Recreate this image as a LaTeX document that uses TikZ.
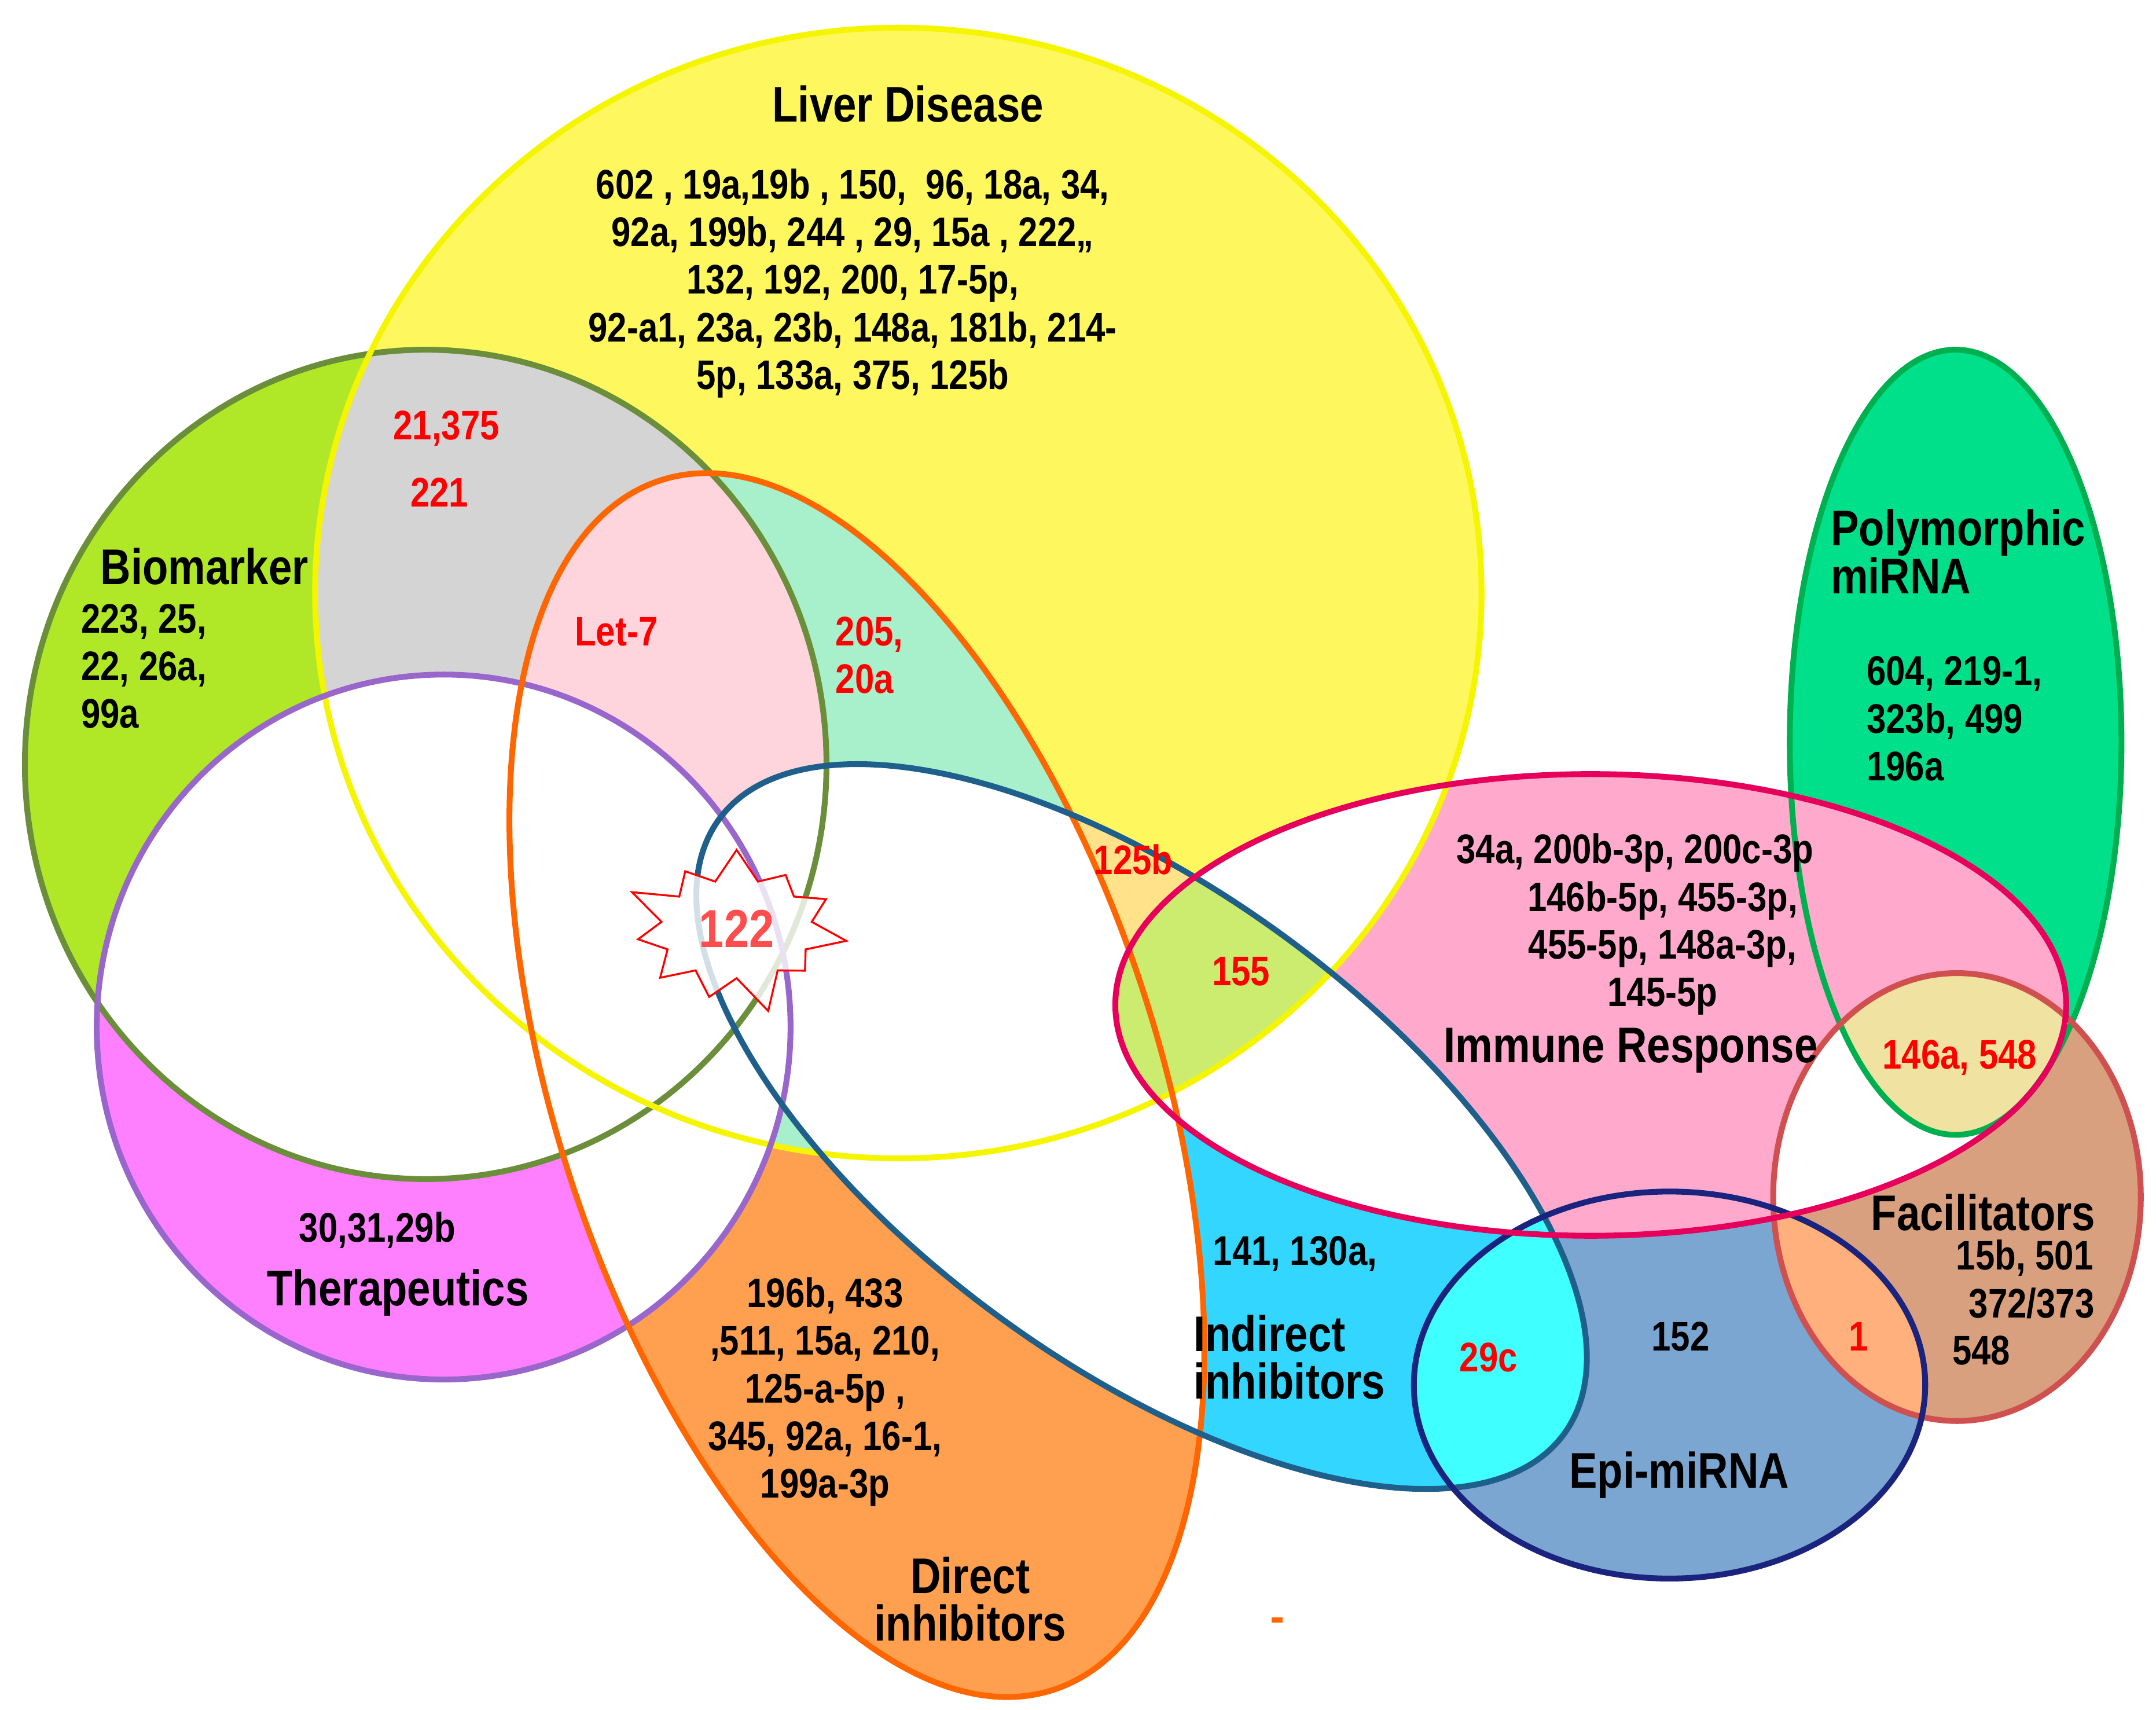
\documentclass[tikz,border=0pt]{standalone}
\usepackage{fontspec}
\setmainfont[FakeStretch=0.84]{Liberation Sans}
\usetikzlibrary{shapes.symbols}
\definecolor{bioF}{HTML}{B0E828}\definecolor{bioD}{HTML}{6B8E3A}
\definecolor{livF}{HTML}{FFF75E}\definecolor{livD}{HTML}{F5F500}
\definecolor{thrF}{HTML}{FF80FF}\definecolor{thrD}{HTML}{9966CC}
\definecolor{dirF}{HTML}{FFA050}\definecolor{dirD}{HTML}{FF6600}
\definecolor{indF}{HTML}{33D6FF}\definecolor{indD}{HTML}{1F5F8B}
\definecolor{immF}{HTML}{FFAACC}\definecolor{immD}{HTML}{E6005C}
\definecolor{polF}{HTML}{00E08A}\definecolor{polD}{HTML}{00B050}
\definecolor{facF}{HTML}{D9A080}\definecolor{facD}{HTML}{D05050}
\definecolor{epiF}{HTML}{7BA6D1}\definecolor{epiD}{HTML}{1A237E}
\definecolor{grayc}{HTML}{D4D4D4}\definecolor{pinkc}{HTML}{FFD5DD}
\definecolor{mintc}{HTML}{A8F0CC}\definecolor{lorc}{HTML}{FFE28A}
\definecolor{ygc}{HTML}{CCEC70}\definecolor{cyanc}{HTML}{40FFFF}
\definecolor{beigec}{HTML}{F0E2A0}\definecolor{peachc}{HTML}{FFB07C}
\newcommand{\pathB}{(308,553) ellipse [x radius=290,y radius=300]}
\newcommand{\pathL}{(650,429) ellipse [x radius=422,y radius=409]}
\newcommand{\pathT}{(321,743) ellipse [x radius=251,y radius=255]}
\newcommand{\pathD}{(620,785) ellipse [x radius=460,y radius=218,rotate=-72]}
\newcommand{\pathI}{(826,815) ellipse [x radius=378,y radius=172,rotate=-36]}
\newcommand{\pathIm}{(1151,727) ellipse [x radius=344,y radius=167]}
\newcommand{\pathP}{(1415,537) ellipse [x radius=120,y radius=284]}
\newcommand{\pathF}{(1416,866) ellipse [x radius=133,y radius=162]}
\newcommand{\pathE}{(1208,1002) ellipse [x radius=185,y radius=140]}
\tikzset{
  num/.style={font={\fontsize{8.5}{9.8}\selectfont\bfseries},align=center,inner sep=0pt},
  rednum/.style={num,text=red},
  ttl/.style={font={\fontsize{10.3}{9.8}\selectfont\bfseries},align=left,inner sep=0pt},
  rim/.style={line width=1.2pt}
}
\begin{document}
\begin{tikzpicture}[x=0.01cm,y=-0.01cm]
\useasboundingbox (0,0) rectangle (1560,1236.7);
%base fills
\fill[bioF] \pathB; \fill[livF] \pathL; \fill[thrF] \pathT;
\fill[dirF] \pathD; \fill[indF] \pathI; \fill[polF] \pathP;
\fill[facF] \pathF; \fill[epiF] \pathE; \fill[immF] \pathIm;
%overlaps
\begin{scope}\clip \pathB; \fill[grayc] \pathL; \fill[white] \pathD; \end{scope}
\begin{scope}\clip \pathL; \fill[mintc] \pathD; \clip \pathB; \fill[pinkc] \pathD; \end{scope}
\begin{scope}\clip \pathL; \fill[lorc] \pathI; \fill[white] \pathIm; \end{scope}
\begin{scope}\clip \pathI; \fill[white] \pathB; \fill[white] \pathD; \fill[white] \pathIm; \end{scope}
\begin{scope}\clip \pathT; \fill[white] \pathB; \fill[white] \pathL; \fill[white] \pathD; \fill[white] \pathI; \end{scope}
\begin{scope}\clip \pathI; \clip \pathL; \fill[ygc] \pathIm; \end{scope}
\begin{scope}\clip \pathI; \fill[cyanc] \pathE; \end{scope}
\begin{scope}\clip \pathIm; \fill[white] \pathF; \end{scope}
\begin{scope}\clip \pathP; \fill[beigec] \pathF; \end{scope}
\begin{scope}\clip \pathE; \fill[peachc] \pathF; \end{scope}
%outlines
\draw[rim,bioD] \pathB; \draw[rim,livD] \pathL; \draw[rim,thrD] \pathT;
\draw[rim,dirD] \pathD; \draw[rim,indD] \pathI; \draw[rim,polD] \pathP;
\draw[rim,facD] \pathF; \draw[rim,epiD] \pathE; \draw[rim,immD] \pathIm;
\draw[dirD,line width=1pt] (920,1172) -- (928,1172);
%star
\node[starburst,draw=red,fill=white,fill opacity=0.8,text opacity=1,minimum width=1.5cm,minimum height=1.15cm,
  starburst points=11,starburst point height=0.3cm,text=red!70,font={\fontsize{11}{12}\selectfont\bfseries}] (star) at (533,672) {122};
%liver
\node[ttl] (livT) at (657,75) {Liver Disease};
\node[num] (livN) at (617,205) {602 , 19a,19b , 150,\ \ 96, 18a, 34,\\92a, 199b, 244 , 29, 15a , 222,,\\132, 192, 200, 17-5p,\\92-a1, 23a, 23b, 148a, 181b, 214-\\5p, 133a, 375, 125b};
\node[rednum] (bl1) at (323,310) {21,375};
\node[rednum] (bl2) at (318,356) {221};
%biomarker
\node[ttl] (bioT) at (148,410) {Biomarker};
\node[num,align=left,anchor=west] (bioN) at (58,482) {223, 25,\\22, 26a,\\99a};
\node[rednum] (let) at (446,457) {Let-7};
\node[rednum,align=left,anchor=west] (ld) at (604,474) {205,\\20a};
\node[rednum] (li) at (820,622) {125b};
\node[rednum] (lim) at (898,703) {155};
%polymorphic
\node[ttl,anchor=west] (polT) at (1324,399) {Polymorphic\\miRNA};
\node[num,align=left,anchor=west] (polN) at (1350,520) {604, 219-1,\\323b, 499\\196a};
%immune
\node[num] (im1) at (1183,617) {34a, 200b-3p, 200c-3p};
\node[num] (imN) at (1203,686) {146b-5p, 455-3p,\\455-5p, 148a-3p,\\145-5p};
\node[ttl] (imT) at (1180,760) {Immune Response};
\node[rednum] (ipf) at (1418,765) {146a, 548};
%facilitators
\node[ttl] (facT) at (1435,877) {Facilitators};
\node[num] (fa1) at (1465,910) {15b, 501};
\node[num] (fa2) at (1470,943) {372/373};
\node[num,anchor=west] (fa3) at (1412,977) {548};
\node[rednum] (ef) at (1345,967) {1};
%epi
\node[num] (epN) at (1216,967) {152};
\node[rednum] (ie) at (1077,982) {29c};
\node[ttl] (epT) at (1215,1067) {Epi-miRNA};
%indirect
\node[num] (inN) at (937,907) {141, 130a,};
\node[ttl,anchor=west] (inT) at (863,982) {Indirect\\inhibitors};
%therapeutics
\node[num] (thN) at (273,890) {30,31,29b};
\node[ttl] (thT) at (288,935) {Therapeutics};
%direct
\node[num] (diN) at (597,1007) {196b, 433\\,511, 15a, 210,\\125-a-5p ,\\345, 92a, 16-1,\\199a-3p};
\node[ttl,align=center] (diT) at (702,1157) {Direct\\inhibitors};
\end{tikzpicture}
\end{document}
